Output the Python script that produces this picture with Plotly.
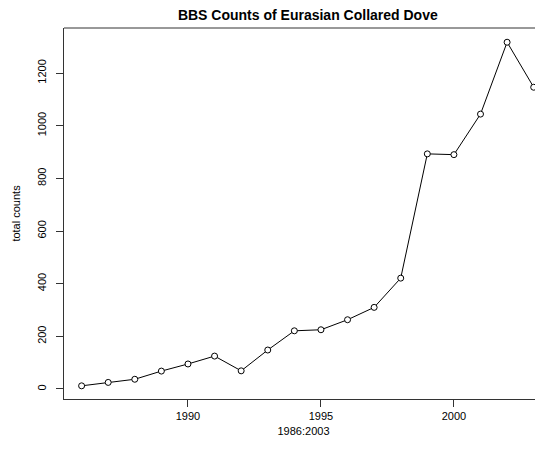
import plotly.graph_objects as go

years = list(range(1986, 2004))
counts = [12, 25, 37, 68, 95, 125, 69, 148, 221, 225, 263, 310, 421,
          893, 890, 1044, 1317, 1146]
x_ticks = [1990, 1995, 2000]
y_ticks = [0, 200, 400, 600, 800, 1000, 1200]

FONT = "Liberation Sans, Arial, Helvetica, sans-serif"

fig = go.Figure()
fig.add_trace(go.Scatter(
    x=years, y=counts, mode="lines+markers",
    line=dict(color="black", width=1),
    marker=dict(symbol="circle", size=6, color="white",
                line=dict(color="black", width=1)),
    cliponaxis=False,
    showlegend=False, hoverinfo="x+y",
))

# page body has an 8px default margin, so the figure is offset by 8px
fig.update_layout(
    width=535, height=433,
    margin=dict(l=56, r=0, t=20, b=42),
    paper_bgcolor="white", plot_bgcolor="white",
    font=dict(family=FONT, size=11, color="black"),
    title=dict(text="<b>BBS Counts of Eurasian Collared Dove</b>",
               x=0.509, xref="paper", xanchor="center",
               y=1 - 2 / 433, yref="container", yanchor="top",
               font=dict(size=14, family=FONT, color="black")),
    xaxis=dict(range=[1985.338, 2003.35], tickvals=x_ticks,
               showgrid=False, zeroline=False,
               showline=True, linecolor="#333333", linewidth=1,
               ticks="outside", ticklen=7, tickcolor="#333333",
               tickfont=dict(size=11),
               title=dict(text="1986:2003", standoff=6,
                          font=dict(size=11))),
    yaxis=dict(range=[-38, 1371], tickvals=y_ticks,
               showgrid=False, zeroline=False,
               showline=True, linecolor="#333333", linewidth=1,
               ticks="outside", ticklen=7, tickcolor="#333333",
               tickangle=-90, tickfont=dict(size=11),
               ticklabelstandoff=6,
               title=dict(text="total counts", standoff=12,
                          font=dict(size=11))),
)

# top border of the plotting box (right side is cut off in the original)
fig.add_shape(type="line", xref="paper", yref="paper",
              x0=0, x1=1, y0=1, y1=1,
              line=dict(color="#333333", width=1))

fig.write_html("out.html")
